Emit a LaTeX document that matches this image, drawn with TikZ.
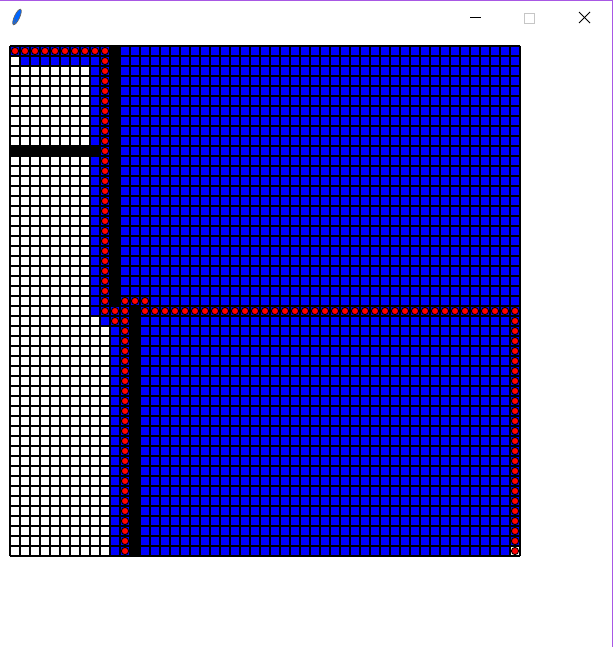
\documentclass[tikz,border=0pt]{standalone}
\definecolor{winborder}{RGB}{168,88,228}
\definecolor{cellblue}{RGB}{0,0,255}
\begin{document}
\begin{tikzpicture}[x=1pt, y=-1pt,
    cellline/.style={line width=1.2pt, black},
    pathdot/.style={fill=red, draw=black, line width=0.9pt},
    titleicon/.style={line width=1pt, black}]
    \useasboundingbox (0,0) rectangle (613,647);
    \fill[white] (0,0) rectangle (613,647);

    % Window frame and title bar
    \draw[winborder, line width=1.2pt] (0,0.6) -- (613,0.6);
    \draw[winborder, line width=1.2pt] (612.4,0) -- (612.4,647);
    \filldraw[fill=blue!60!cyan, draw=gray!80!black, line width=0.7pt, rotate around={65:(17,17)}] (17,17) ellipse (8.5 and 2.6);
    \draw[gray!80!black, line width=0.6pt] (13.5,25) -- (16,19);
    \draw[titleicon] (470,18) -- (481,18);
    \draw[gray!45, line width=0.8pt] (524,13) rectangle (534,23);
    \draw[titleicon] (579,12) -- (590,23);
    \draw[titleicon] (579,23) -- (590,12);

    % Cell colours
    \fill[cellblue] (10,46) rectangle (520,556);
    \fill[white] (10,56) rectangle (20,66);
    \fill[white] (10,66) rectangle (90,146);
    \fill[white] (10,156) rectangle (90,316);
    \fill[white] (10,316) rectangle (100,326);
    \fill[white] (10,326) rectangle (110,556);
    \fill[white] (510,546) rectangle (520,556);
    % Walls
    \fill[black] (10,146) rectangle (100,156);
    \fill[black] (110,46) rectangle (120,306);
    \fill[black] (130,306) rectangle (140,556);

    % Grid lines
    \foreach \i in {0,...,51} {
        \draw[cellline] (10+10*\i,46) -- (10+10*\i,556);
        \draw[cellline] (10,46+10*\i) -- (520,46+10*\i);
    }

    % Path
    \foreach \c in {0,...,9}
        \filldraw[pathdot] (15+10*\c,51) circle[radius=3.6pt];
    \foreach \r in {1,...,26}
        \filldraw[pathdot] (105,51+10*\r) circle[radius=3.6pt];
    \foreach \c/\r in {10/26, 10/27, 12/25, 13/25}
        \filldraw[pathdot] (15+10*\c,51+10*\r) circle[radius=3.6pt];
    \foreach \r in {25,...,50}
        \filldraw[pathdot] (125,51+10*\r) circle[radius=3.6pt];
    \foreach \c in {13,...,50}
        \filldraw[pathdot] (15+10*\c,311) circle[radius=3.6pt];
    \foreach \r in {27,...,50}
        \filldraw[pathdot] (515,51+10*\r) circle[radius=3.6pt];
\end{tikzpicture}
\end{document}
